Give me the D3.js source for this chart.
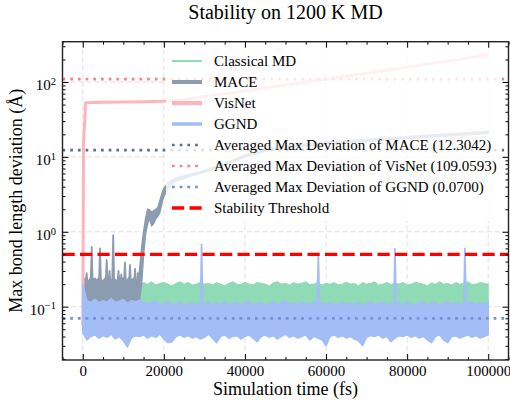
<!DOCTYPE html>
<html lang="en">
<head>
<meta charset="utf-8">
<script src="https://cdn.jsdelivr.net/npm/d3@7/dist/d3.min.js"></script>
<style>
  body { margin: 0; background: #fff; }
  svg { display: block; font-family: "Liberation Serif", "DejaVu Serif", serif; }
  .axis text { font-family: "Liberation Serif", "DejaVu Serif", serif; font-size: 15px; fill: #000; }
  .axis line { stroke: #000; stroke-width: 1; }
  .grid line { stroke: #d8d8d8; stroke-width: 0.8; stroke-dasharray: 5 3; }
</style>
</head>
<body>
<svg id="chart" width="510" height="400"></svg>
<script>
// ---- data ----
var xTicks = [0, 20000, 40000, 60000, 80000, 100000];
var yTicks = [0.1, 1, 10, 100];

var seriesNames = ['Classical MD', 'MACE', 'VisNet', 'GGND'];
var avgValues = [12.3042, 109.0593, 0.0700];
var threshold = 0.5;

// sample times for the two long noisy runs (fs)
var runTime = [0,1000,2000,3000,4000,5000,6000,7000,8000,9000,
  10000,11000,12000,13000,14000,15000,16000,17000,18000,19000,
  20000,21000,22000,23000,24000,25000,26000,27000,28000,29000,
  30000,31000,32000,33000,34000,35000,36000,37000,38000,39000,
  40000,41000,42000,43000,44000,45000,46000,47000,48000,49000,
  50000,51000,52000,53000,54000,55000,56000,57000,58000,59000,
  60000,61000,62000,63000,64000,65000,66000,67000,68000,69000,
  70000,71000,72000,73000,74000,75000,76000,77000,78000,79000,
  80000,81000,82000,83000,84000,85000,86000,87000,88000,89000,
  90000,91000,92000,93000,94000,95000,96000,97000,98000,99000,100000];

// Classical MD envelope
var mdHigh = [0.2,0.21,0.19,0.205,0.215,0.2,0.195,0.21,0.2,0.19,
  0.205,0.2,0.21,0.195,0.2,0.21,0.2,0.215,0.195,0.205,
  0.21,0.2,0.19,0.205,0.215,0.2,0.21,0.195,0.2,0.212,
  0.2,0.205,0.195,0.21,0.2,0.19,0.205,0.215,0.2,0.198,
  0.21,0.2,0.195,0.21,0.205,0.2,0.19,0.208,0.215,0.2,
  0.205,0.195,0.21,0.2,0.205,0.215,0.198,0.2,0.21,0.195,
  0.205,0.2,0.21,0.195,0.2,0.212,0.2,0.205,0.19,0.21,
  0.2,0.205,0.215,0.195,0.2,0.21,0.198,0.205,0.2,0.21,
  0.195,0.2,0.212,0.205,0.2,0.19,0.208,0.2,0.215,0.2,
  0.205,0.195,0.21,0.2,0.205,0.215,0.198,0.2,0.21,0.205,0.2];
var mdLow = [0.1,0.095,0.098,0.092,0.1,0.096,0.094,0.099,0.093,0.097,
  0.1,0.095,0.098,0.092,0.1,0.096,0.094,0.099,0.093,0.097,
  0.1,0.095,0.098,0.092,0.1,0.096,0.094,0.099,0.093,0.097,
  0.1,0.095,0.098,0.092,0.1,0.096,0.094,0.099,0.093,0.097,
  0.1,0.095,0.098,0.092,0.1,0.096,0.094,0.099,0.093,0.097,
  0.1,0.095,0.098,0.092,0.1,0.096,0.094,0.099,0.093,0.097,
  0.1,0.095,0.098,0.092,0.1,0.096,0.094,0.099,0.093,0.097,
  0.1,0.095,0.098,0.092,0.1,0.096,0.094,0.099,0.093,0.097,
  0.1,0.095,0.098,0.092,0.1,0.096,0.094,0.099,0.093,0.097,
  0.1,0.095,0.098,0.092,0.1,0.096,0.094,0.099,0.093,0.097,0.1];

// GGND envelope
var ggndHigh = [0.2,0.12,0.115,0.125,0.113,0.12,0.115,0.128,0.114,0.118,
  0.125,0.111,0.12,0.116,0.122,0.115,0.108,0.113,0.12,0.105,
  0.111,0.115,0.104,0.109,0.115,0.102,0.108,0.113,0.105,0.11,
  0.107,0.115,0.102,0.113,0.105,0.117,0.103,0.11,0.115,0.102,
  0.113,0.12,0.105,0.111,0.115,0.103,0.11,0.117,0.105,0.113,
  0.12,0.107,0.113,0.103,0.115,0.11,0.105,0.117,0.108,0.113,
  0.107,0.115,0.103,0.11,0.117,0.105,0.113,0.107,0.115,0.102,
  0.11,0.117,0.105,0.112,0.115,0.103,0.11,0.108,0.113,0.105,
  0.115,0.108,0.103,0.113,0.117,0.105,0.111,0.115,0.103,0.11,
  0.117,0.107,0.113,0.105,0.109,0.111,0.115,0.105,0.113,0.11,0.115];
var ggndLow = [0.045,0.036,0.04,0.042,0.038,0.041,0.039,0.043,0.037,0.04,
  0.035,0.029,0.038,0.041,0.04,0.042,0.038,0.041,0.039,0.043,
  0.037,0.033,0.034,0.04,0.042,0.039,0.041,0.038,0.04,0.037,
  0.039,0.043,0.038,0.033,0.04,0.042,0.038,0.04,0.041,0.037,
  0.04,0.042,0.038,0.034,0.04,0.042,0.039,0.041,0.037,0.04,
  0.043,0.039,0.041,0.038,0.04,0.042,0.036,0.04,0.038,0.036,
  0.03,0.04,0.042,0.039,0.041,0.038,0.04,0.037,0.035,0.03,
  0.039,0.041,0.04,0.042,0.038,0.04,0.034,0.038,0.041,0.04,
  0.042,0.039,0.041,0.038,0.04,0.036,0.033,0.04,0.042,0.036,
  0.033,0.04,0.041,0.038,0.04,0.042,0.039,0.041,0.038,0.04,0.042];
var ggndSpikeTime = [29300, 58100, 77000, 94250];
var ggndSpikePeak = [0.68, 0.48, 0.59, 0.6];

// MACE: noisy start, blow-up near 15 ps, then slow drift
var maceTime = [500,1000,1500,2000,2500,3000,3500,4000,4500,5000,
  5500,6000,6500,7000,7500,8000,8500,9000,9500,10000,
  10500,11000,11500,12000,12500,13000,13500,14000,
  14500,15000,15500,16000,16500,17000,17500,18000,18500,19000,19500,20000,
  21000,22000,23000,24000,25000,27000,
  30000,35000,40000,45000,50000,55000,60000,65000,70000,75000,80000,85000,90000,95000,100000];
var maceHigh = [0.24,0.23,0.22,0.25,0.23,0.24,0.22,0.25,0.23,0.22,
  0.24,0.23,0.25,0.22,0.24,0.23,0.22,0.25,0.23,0.24,
  0.22,0.23,0.25,0.22,0.24,0.23,0.22,0.3,
  0.6,1.0,1.5,2.0,1.95,1.8,1.9,2.0,2.1,2.6,3.2,3.8,
  4.5,4.9,5.2,5.4,5.6,6.0,
  6.6,8.2,10.6,12.6,14,14.9,15.7,16.4,17.1,17.9,18.6,19.4,20.2,21,21.8];
var maceLow = [0.12,0.118,0.122,0.115,0.12,0.117,0.121,0.116,0.12,0.118,
  0.122,0.115,0.12,0.118,0.121,0.116,0.12,0.117,0.122,0.115,
  0.12,0.118,0.121,0.116,0.12,0.118,0.12,0.125,
  0.2,0.5,0.95,1.3,1.5,1.2,1.3,1.5,1.6,1.8,2.4,3.0,
  3.8,4.4,4.8,5.0,5.2,5.6,
  6.25,7.75,10,11.9,13.2,14.1,14.8,15.5,16.1,16.9,17.5,18.3,19.1,19.8,20.6];
var maceSpikeTime = [950, 2200, 4250, 5900, 6600, 7500, 8800, 9500, 10400, 11650, 12900, 13600];
var maceSpikePeak = [0.28, 0.63, 0.6, 0.42, 0.3, 0.9, 0.3, 0.27, 0.39, 0.36, 0.32, 0.28];

// VisNet: jumps at once, then keeps growing
var visTime = [0, 200, 700, 5000, 10000, 15000, 20000, 25000, 30000, 40000, 50000, 60000, 70000, 80000, 90000, 100000];
var visValue = [0.055, 15, 53, 53.5, 54, 54.5, 55.5, 59, 64, 76, 91, 109, 131, 158, 190, 229];

// ---- style ----
var colMD = '#8edbb5', colMACE = '#8b9bb0', colVis = '#ffb3bb', colGGND = '#a3bdf6';
var colAvg = ['#5c6f8c', '#ff7f86', '#7192dd'];

var margin = { top: 41.7, right: 1.5, bottom: 40, left: 62.5 };
var width = 510 - margin.left - margin.right;
var height = 400 - margin.top - margin.bottom;

var svg = d3.select('#chart');
var g = svg.append('g')
  .attr('transform', 'translate(' + margin.left + ',' + margin.top + ')');

var x = d3.scaleLinear().domain([-5000, 105000]).range([0, width]);
var y = d3.scaleLog().domain([Math.pow(10, -1.712), Math.pow(10, 2.538)]).range([height, 0]);

// grid
g.append('g').attr('class', 'grid')
  .selectAll('line.gx').data(xTicks).enter().append('line')
  .attr('x1', function (d) { return x(d); }).attr('x2', function (d) { return x(d); })
  .attr('y1', 0).attr('y2', height);
g.append('g').attr('class', 'grid')
  .selectAll('line.gy').data(yTicks).enter().append('line')
  .attr('y1', function (d) { return y(d); }).attr('y2', function (d) { return y(d); })
  .attr('x1', 0).attr('x2', width);

g.append('clipPath').attr('id', 'clip')
  .append('rect').attr('width', width).attr('height', height);
var plot = g.append('g').attr('clip-path', 'url(#clip)');

var band = d3.area()
  .x(function (d) { return x(d.t); })
  .y0(function (d) { return y(d.lo); })
  .y1(function (d) { return y(d.hi); });
var line = d3.line()
  .x(function (d) { return x(d.t); })
  .y(function (d) { return y(d.v); });

function rows(ts, lo, hi) {
  return ts.map(function (t, i) { return { t: t, lo: lo[i], hi: hi[i] }; });
}
function drawBand(data, color, sw) {
  plot.append('path').datum(data).attr('d', band)
    .attr('fill', color).attr('stroke', color)
    .attr('stroke-width', sw).attr('stroke-linejoin', 'round');
}
function drawSpikes(ts, peaks, base, color) {
  ts.forEach(function (t, i) {
    plot.append('path')
      .datum([{ t: t - 250, v: base }, { t: t, v: peaks[i] }, { t: t + 250, v: base }])
      .attr('d', line)
      .attr('fill', color).attr('stroke', color)
      .attr('stroke-width', 1.8).attr('stroke-linejoin', 'round');
  });
}

// Classical MD
drawBand(rows(runTime, mdLow, mdHigh), colMD, 1);
// MACE
drawBand(rows(maceTime, maceLow, maceHigh), colMACE, 1.5);
drawSpikes(maceSpikeTime, maceSpikePeak, 0.2, colMACE);
// VisNet
plot.append('path')
  .datum(visTime.map(function (t, i) { return { t: t, v: visValue[i] }; }))
  .attr('d', line)
  .attr('fill', 'none').attr('stroke', colVis)
  .attr('stroke-width', 3).attr('stroke-linejoin', 'round');
// GGND
drawBand(rows(runTime, ggndLow, ggndHigh), colGGND, 1.5);
drawSpikes(ggndSpikeTime, ggndSpikePeak, 0.11, colGGND);

// averaged deviations and threshold
avgValues.forEach(function (v, i) {
  plot.append('line')
    .attr('x1', 0).attr('x2', width)
    .attr('y1', y(v)).attr('y2', y(v))
    .attr('stroke', colAvg[i]).attr('stroke-width', 2.7)
    .attr('stroke-dasharray', '2.7 5');
});
plot.append('line')
  .attr('x1', 0).attr('x2', width)
  .attr('y1', y(threshold)).attr('y2', y(threshold))
  .attr('stroke', '#ff0000').attr('stroke-width', 3.3)
  .attr('stroke-dasharray', '12.2 5.3');

// axes (ticks pointing inwards on all four sides)
var minorX = d3.range(-5000, 105001, 5000).filter(function (d) { return xTicks.indexOf(d) < 0; });
var minorY = [];
[-2, -1, 0, 1, 2].forEach(function (e) {
  for (var k = 2; k <= 9; k++) minorY.push(k * Math.pow(10, e));
});
minorY = minorY.filter(function (d) { return d > y.domain()[0] && d < y.domain()[1]; });

function styleAxis(sel) {
  sel.attr('class', 'axis').attr('font-family', null).attr('font-size', null);
  sel.select('.domain').remove();
}

g.append('g').attr('transform', 'translate(0,' + height + ')')
  .call(d3.axisBottom(x).tickValues(xTicks).tickSize(-6).tickPadding(5.5).tickFormat(d3.format('d')))
  .call(styleAxis);
g.append('g').attr('transform', 'translate(0,' + height + ')')
  .call(d3.axisBottom(x).tickValues(minorX).tickSize(-3).tickFormat(''))
  .call(styleAxis);
g.append('g')
  .call(d3.axisTop(x).tickValues(xTicks).tickSize(-6).tickFormat(''))
  .call(styleAxis);
g.append('g')
  .call(d3.axisTop(x).tickValues(minorX).tickSize(-3).tickFormat(''))
  .call(styleAxis);

var yAxis = g.append('g')
  .call(d3.axisLeft(y).tickValues(yTicks).tickSize(-6).tickPadding(6.5).tickFormat(''))
  .call(styleAxis);
yAxis.selectAll('.tick text')
  .attr('dy', '0.5em')
  .each(function (d) {
    var t = d3.select(this);
    t.text('10');
    t.append('tspan').attr('dy', '-0.5em').attr('font-size', '10.5px').text(Math.round(Math.log10(d)) < 0 ? '\u22121' : Math.round(Math.log10(d)));
  });
g.append('g')
  .call(d3.axisLeft(y).tickValues(minorY).tickSize(-3).tickFormat(''))
  .call(styleAxis);
g.append('g').attr('transform', 'translate(' + width + ',0)')
  .call(d3.axisRight(y).tickValues(yTicks).tickSize(-6).tickFormat(''))
  .call(styleAxis);
g.append('g').attr('transform', 'translate(' + width + ',0)')
  .call(d3.axisRight(y).tickValues(minorY).tickSize(-3).tickFormat(''))
  .call(styleAxis);

// frame
g.append('rect')
  .attr('width', width).attr('height', height)
  .attr('fill', 'none').attr('stroke', '#222').attr('stroke-width', 1.4);

// labels
svg.append('text')
  .attr('x', margin.left + width / 2).attr('y', 19)
  .attr('text-anchor', 'middle').attr('font-size', '20px')
  .text('Stability on 1200 K MD');
svg.append('text')
  .attr('x', margin.left + width / 2).attr('y', 395)
  .attr('text-anchor', 'middle').attr('font-size', '18px')
  .text('Simulation time (fs)');
svg.append('text')
  .attr('transform', 'translate(22,' + (margin.top + height / 2) + ') rotate(-90)')
  .attr('text-anchor', 'middle').attr('font-size', '18px')
  .text('Max bond length deviation (\u00c5)');

// legend
var legendItems = [
  { label: seriesNames[0], color: colMD, w: 2 },
  { label: seriesNames[1], color: colMACE, w: 4 },
  { label: seriesNames[2], color: colVis, w: 4 },
  { label: seriesNames[3], color: colGGND, w: 3.5 },
  { label: 'Averaged Max Deviation of MACE (' + avgValues[0].toFixed(4) + ')', color: colAvg[0], w: 2.7, dash: '2.7 5' },
  { label: 'Averaged Max Deviation of VisNet (' + avgValues[1].toFixed(4) + ')', color: colAvg[1], w: 2.7, dash: '2.7 5' },
  { label: 'Averaged Max Deviation of GGND (' + avgValues[2].toFixed(4) + ')', color: colAvg[2], w: 2.7, dash: '2.7 5' },
  { label: 'Stability Threshold', color: '#ff0000', w: 3.3, dash: '12.2 5.3' }
];
var legend = svg.append('g');
legend.append('rect')
  .attr('x', 166).attr('y', 48).attr('width', 336).attr('height', 173).attr('rx', 3)
  .attr('fill', '#fff').attr('fill-opacity', 0.8);
var item = legend.selectAll('g.item').data(legendItems).enter().append('g')
  .attr('transform', function (d, i) { return 'translate(0,' + (61 + i * 21) + ')'; });
item.append('line')
  .attr('x1', 172).attr('x2', 202)
  .attr('stroke', function (d) { return d.color; })
  .attr('stroke-width', function (d) { return d.w; })
  .attr('stroke-dasharray', function (d) { return d.dash || null; });
item.append('text')
  .attr('x', 214).attr('dy', '0.33em').attr('font-size', '15px')
  .text(function (d) { return d.label; });
</script>
</body>
</html>
